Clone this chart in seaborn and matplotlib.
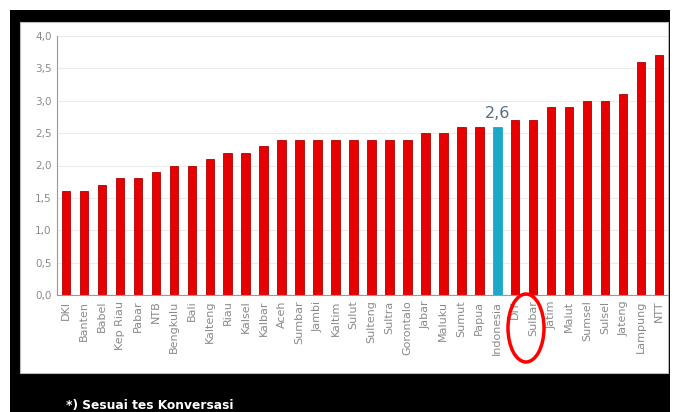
import numpy as np
import pandas as pd
import matplotlib.pyplot as plt
import seaborn as sns
from matplotlib.patches import Rectangle, Ellipse

# provinces sorted by value
provinces = ['DKI', 'Banten', 'Babel', 'Kep Riau', 'Pabar', 'NTB', 'Bengkulu', 'Bali',
             'Kalteng', 'Riau', 'Kalsel', 'Kalbar', 'Aceh', 'Sumbar', 'Jambi', 'Kaltim',
             'Sulut', 'Sulteng', 'Sultra', 'Gorontalo', 'Jabar', 'Maluku', 'Sumut', 'Papua',
             'Indonesia', 'DIY', 'Sulbar', 'Jatim', 'Malut', 'Sumsel', 'Sulsel', 'Jateng',
             'Lampung', 'NTT']
values = [1.6, 1.6, 1.7, 1.8, 1.8, 1.9, 2.0, 2.0,
          2.1, 2.2, 2.2, 2.3, 2.4, 2.4, 2.4, 2.4,
          2.4, 2.4, 2.4, 2.4, 2.5, 2.5, 2.6, 2.6,
          2.6, 2.7, 2.7, 2.9, 2.9, 3.0, 3.0, 3.1,
          3.6, 3.7]
y_ticks = [0.0, 0.5, 1.0, 1.5, 2.0, 2.5, 3.0, 3.5, 4.0]
highlight = 'Indonesia'
footnote = '*) Sesuai tes Konversasi'

RED = '#e60000'
BLUE = '#1ba8c9'

df = pd.DataFrame({'prov': provinces, 'val': values})
palette = {p: (BLUE if p == highlight else RED) for p in provinces}

sns.set_style('white')
fig = plt.figure(figsize=(6.77, 4.12), dpi=100)
fig.patch.set_facecolor('white')

W, H = 677, 412
# black frame and white panel (behind the axes)
fig.patches.append(Rectangle((10 / W, 0), 660 / W, 1 - 10 / H, transform=fig.transFigure,
                             facecolor='black', edgecolor='none', zorder=-2))
fig.patches.append(Rectangle((20 / W, 1 - 373 / H), 648 / W, 351 / H, transform=fig.transFigure,
                             facecolor='white', edgecolor='#bbbbbb', lw=0.8, zorder=-1))

ax = fig.add_axes([57 / W, 1 - 295 / H, 611 / W, 259 / H])
ax.set_zorder(1)
ax.set_facecolor('none')
sns.barplot(data=df, x='prov', y='val', hue='prov', palette=palette, legend=False,
            width=0.47, saturation=1, edgecolor='#b00000', linewidth=0.6, ax=ax)
ax.patches[provinces.index(highlight)].set_edgecolor(BLUE)

ax.set_ylim(0, 4.0)
ax.set_xlim(-0.5, len(provinces) - 0.5)
ax.set_yticks(y_ticks)
ax.set_yticklabels([f'{t:.1f}'.replace('.', ',') for t in y_ticks], fontsize=7.5, color='#8a8a8a')
ax.set_xticks(range(len(provinces)))
ax.set_xticklabels(provinces, rotation=90, fontsize=8, color='#8a8a8a')
ax.tick_params(axis='both', length=0, pad=4)
ax.set_xlabel('')
ax.set_ylabel('')
ax.yaxis.grid(True, color='#ececec', lw=0.8)
ax.set_axisbelow(True)
for s in ['top', 'right']:
    ax.spines[s].set_visible(False)
for s in ['left', 'bottom']:
    ax.spines[s].set_color('#999999')
    ax.spines[s].set_linewidth(0.8)

# value label for Indonesia
i = provinces.index(highlight)
ax.text(i, values[i] + 0.08, f'{values[i]:.1f}'.replace('.', ','), ha='center', va='bottom',
        fontsize=11.5, color='#5a6e80')

# red circle around DIY / Sulbar labels
fig.patches.append(Ellipse((526 / W, 1 - 328 / H), 36 / W, 68 / H, transform=fig.transFigure,
                           facecolor='none', edgecolor='#ff0000', lw=2.5, zorder=5))

fig.text(66 / W, 1 - 405 / H, footnote, color='white', fontsize=8.8, fontweight='bold',
         ha='left', va='center')

plt.savefig('out.png', dpi=100)
plt.close()
